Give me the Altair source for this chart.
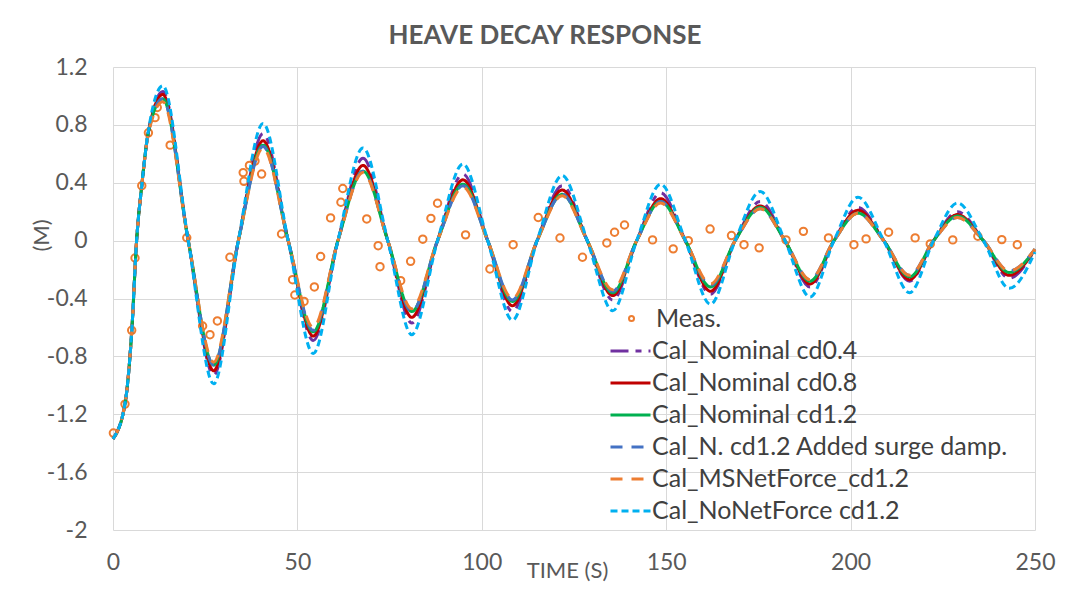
import altair as alt
import pandas as pd

# ---- data ----
time_pts = [0, 3.3, 5.1, 6.4, 7.8, 9.6, 13.5, 20.4, 27.3, 34.0, 40.7, 47.5, 54.3, 61.0,
            67.8, 74.5, 81.0, 88.0, 94.9, 101.6, 108.3, 115.0, 121.8, 128.6, 135.5, 142.0,
            148.5, 155.2, 162.0, 168.7, 175.5, 182.2, 189.0, 195.5, 202.0, 209.0, 216.0,
            222.5, 229.0, 236.0, 243.0, 250.0]

series_names = ["Cal_Nominal cd0.4", "Cal_Nominal cd0.8", "Cal_Nominal cd1.2",
                "Cal_N. cd1.2 Added surge damp.", "Cal_MSNetForce_cd1.2", "Cal_NoNetForce cd1.2"]
series_colors = ["#7030A0", "#C00000", "#00B050", "#4472C4", "#ED7D31", "#00B0F0"]
series_dash = [[18, 7, 6, 7], [1, 0], [1, 0], [12, 9], [12, 9], [7, 4]]

cd04 = [-1.37, -1.12, -0.62, 0, 0.38, 0.75, 1.03, 0, -0.93, 0, 0.74, 0, -0.69, 0, 0.57, 0,
        -0.57, 0, 0.46, 0, -0.49, 0, 0.38, 0, -0.41, 0, 0.33, 0, -0.37, 0, 0.27, 0, -0.32,
        0, 0.23, 0, -0.28, 0, 0.20, 0, -0.26, -0.06]
cd08 = [-1.37, -1.12, -0.62, 0, 0.38, 0.75, 1.01, 0, -0.90, 0, 0.69, 0, -0.66, 0, 0.52, 0,
        -0.53, 0, 0.42, 0, -0.45, 0, 0.35, 0, -0.38, 0, 0.29, 0, -0.35, 0, 0.24, 0, -0.30,
        0, 0.21, 0, -0.27, 0, 0.18, 0, -0.24, -0.06]
cd12 = [-1.37, -1.12, -0.62, 0, 0.38, 0.75, 0.98, 0, -0.86, 0, 0.66, 0, -0.63, 0, 0.48, 0,
        -0.49, 0, 0.39, 0, -0.42, 0, 0.32, 0, -0.36, 0, 0.27, 0, -0.32, 0, 0.23, 0, -0.28,
        0, 0.19, 0, -0.25, 0, 0.17, 0, -0.22, -0.06]
surge = [-1.37, -1.12, -0.62, 0, 0.38, 0.75, 0.98, 0, -0.86, 0, 0.65, 0, -0.62, 0, 0.48, 0,
         -0.49, 0, 0.38, 0, -0.41, 0, 0.32, 0, -0.35, 0, 0.27, 0, -0.31, 0, 0.22, 0, -0.27,
         0, 0.19, 0, -0.24, 0, 0.16, 0, -0.21, -0.06]
msnet = [-1.37, -1.12, -0.62, 0, 0.38, 0.74, 0.96, 0, -0.84, 0, 0.64, 0, -0.60, 0, 0.47, 0,
         -0.47, 0, 0.37, 0, -0.40, 0, 0.31, 0, -0.34, 0, 0.26, 0, -0.30, 0, 0.22, 0, -0.27,
         0, 0.19, 0, -0.24, 0, 0.16, 0, -0.21, -0.06]
nonet = [-1.37, -1.12, -0.62, 0, 0.38, 0.76, 1.07, 0, -0.99, 0, 0.81, 0, -0.78, 0, 0.64, 0,
         -0.65, 0, 0.53, 0, -0.55, 0, 0.45, 0, -0.485, 0, 0.39, 0, -0.44, 0, 0.34, 0, -0.39,
         0, 0.30, 0, -0.36, 0, 0.26, 0, -0.33, -0.08]

meas_t = [0.1, 3.25, 5.07, 5.97, 7.8, 9.6, 11.4, 12.0, 15.5, 20.0, 24.3, 26.3, 28.3, 31.7,
          35.3, 35.5, 37.0, 38.5, 40.3, 45.7, 48.7, 49.3, 51.8, 54.6, 56.3, 59.0, 61.8, 62.3,
          68.8, 71.9, 72.4, 78.0, 80.7, 84.0, 86.2, 88.0, 95.6, 102.2, 108.5, 115.3, 121.2,
          127.3, 133.9, 136.0, 138.7, 146.3, 151.9, 156.0, 161.9, 167.7, 171.1, 175.2, 182.5,
          187.2, 194.0, 200.9, 204.2, 210.3, 217.5, 221.6, 227.7, 234.5, 241.0, 245.2]
meas_y = [-1.33, -1.13, -0.62, -0.12, 0.38, 0.745, 0.85, 0.92, 0.66, 0.02, -0.59, -0.65,
          -0.555, -0.115, 0.47, 0.41, 0.52, 0.55, 0.46, 0.046, -0.27, -0.376, -0.42, -0.32,
          -0.11, 0.157, 0.265, 0.36, 0.15, -0.035, -0.18, -0.277, -0.143, 0.01, 0.154, 0.258,
          0.04, -0.196, -0.028, 0.16, 0.018, -0.115, -0.016, 0.058, 0.108, 0.005, -0.057, 0.0,
          0.08, 0.035, -0.028, -0.05, 0.005, 0.064, 0.019, -0.028, 0.012, 0.058, 0.019, -0.023,
          0.005, 0.03, 0.007, -0.028]

x_ticks = [0, 50, 100, 150, 200, 250]
y_ticks = [-2, -1.6, -1.2, -0.8, -0.4, 0, 0.4, 0.8, 1.2]

# ---- tables ----
rows = []
for name, vals in zip(series_names, [cd04, cd08, cd12, surge, msnet, nonet]):
    for t, v in zip(time_pts, vals):
        rows.append({"t": t, "y": v, "series": name})
lines_df = pd.DataFrame(rows)
meas_df = pd.DataFrame({"t": meas_t, "y": meas_y, "grp": ["Meas."] * len(meas_t)})

TXT = "#595959"

x_enc = alt.X("t:Q", scale=alt.Scale(domain=[0, 250], nice=False),
              axis=alt.Axis(values=x_ticks, title="TIME (S)", grid=True, domain=False,
                            ticks=False, labelPadding=21, labelFontSize=23,
                            labelFlush=False, labelOverlap=False,
                            labelColor=TXT, titleFontSize=22, titleColor=TXT,
                            titleFontWeight="normal", titleX=454, titleY=47,
                            titleBaseline="alphabetic", titleAlign="center"))
y_enc = alt.Y("y:Q", scale=alt.Scale(domain=[-2, 1.2], nice=False, zero=False),
              axis=alt.Axis(values=y_ticks, title="(M)", grid=True, domain=False,
                            ticks=False, labelPadding=26, labelFontSize=23,
                            labelFlush=False, labelOverlap=False,
                            labelColor=TXT, format=".1~f",
                            labelExpr="replace(datum.label, '\u2212', '-')",
                            titleFontSize=22, titleColor=TXT, titleFontWeight="normal",
                            titleAngle=270, titleX=-65, titleY=168,
                            titleBaseline="alphabetic", titleAlign="center"))

meas = alt.Chart(meas_df).mark_point(filled=False, size=55, strokeWidth=2, opacity=1).encode(
    x=x_enc, y=y_enc,
    stroke=alt.Stroke("grp:N", scale=alt.Scale(domain=["Meas."], range=["#ED7D31"]),
                      legend=alt.Legend(title=None, orient="none", legendX=506, legendY=239,
                                        symbolSize=25, symbolStrokeWidth=2, labelOffset=12,
                                        labelFontSize=25, labelColor="#404040",
                                        symbolType="circle", padding=0)),
)

legend_cfg = dict(title=None, orient="none", legendX=496, legendY=268,
                  symbolType="stroke", symbolSize=1600, symbolStrokeWidth=3,
                  labelFontSize=25, labelColor="#404040", labelOffset=0,
                  rowPadding=0, clipHeight=32, padding=0, labelLimit=500)

lines = alt.Chart(lines_df).mark_line(strokeWidth=3, interpolate="monotone").encode(
    x=x_enc, y=y_enc,
    color=alt.Color("series:N", sort=series_names,
                    scale=alt.Scale(domain=series_names, range=series_colors),
                    legend=alt.Legend(**legend_cfg)),
    strokeDash=alt.StrokeDash("series:N", sort=series_names,
                              scale=alt.Scale(domain=series_names, range=series_dash),
                              legend=alt.Legend(**legend_cfg)),
)

chart = alt.layer(meas, lines).resolve_legend(stroke="independent").properties(
    width=922, height=463,
    title=alt.TitleParams("HEAVE DECAY RESPONSE", fontSize=26, font="Lato", fontWeight="bold",
                          color=TXT, anchor="middle", dx=-29, dy=38, offset=24,
                          baseline="alphabetic"),
    autosize=alt.AutoSizeParams(type="none"),
    padding={"left": 113, "top": 67, "right": 48, "bottom": 78},
).configure(font="Lato").configure_axis(
    gridColor="#D9D9D9", gridWidth=1, labelFont="Lato", titleFont="Lato"
).configure_legend(labelFont="Lato").configure_view(stroke=None)

chart.save("out.html", embed_options={"renderer": "svg", "actions": False})
